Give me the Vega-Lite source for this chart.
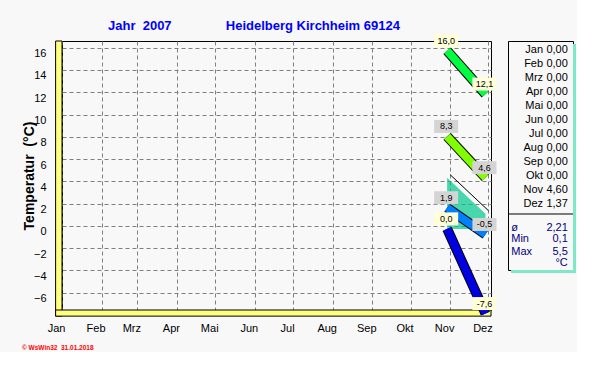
{
  "$schema": "https://vega.github.io/schema/vega-lite/v6.json",
  "background": "#F8F8F8",
  "padding": {"left": 21, "top": 19, "right": 0, "bottom": 0},
  "config": {"font": "Liberation Sans", "view": {"stroke": "black", "strokeWidth": 1}, "concat": {"spacing": 1}, "axis": {"labelOverlap": false}},
  "title": {"text": "©\u00a0WsWin32\u00a0\u00a031.01.2018", "orient": "bottom", "anchor": "start", "frame": "bounds", "fontSize": 6.5, "fontWeight": "bold", "color": "#FF0000", "offset": 11},
  "datasets": {
    "main": [
      {"series": "Max", "date": "2007/11/01", "value": 16.0, "label": "16,0"},
      {"series": "Max", "date": "2007/12/01", "value": 12.1, "label": "12,1"},
      {"series": "Mittel Max", "date": "2007/11/01", "value": 8.3, "label": "8,3"},
      {"series": "Mittel Max", "date": "2007/12/01", "value": 4.6, "label": "4,6"},
      {"series": "Mittel", "date": "2007/11/01", "value": 4.6, "label": "4,60"},
      {"series": "Mittel", "date": "2007/12/01", "value": 1.37, "label": "1,37"},
      {"series": "Mittel Min", "date": "2007/11/01", "value": 1.9, "label": "1,9"},
      {"series": "Mittel Min", "date": "2007/12/01", "value": -0.5, "label": "-0,5"},
      {"series": "Min", "date": "2007/11/01", "value": 0.0, "label": "0,0"},
      {"series": "Min", "date": "2007/12/01", "value": -7.6, "label": "-7,6"}
    ],
    "table": [
      {"label": "Jan", "value": "0,00", "row": 1, "kind": "month"},
      {"label": "Feb", "value": "0,00", "row": 2, "kind": "month"},
      {"label": "Mrz", "value": "0,00", "row": 3, "kind": "month"},
      {"label": "Apr", "value": "0,00", "row": 4, "kind": "month"},
      {"label": "Mai", "value": "0,00", "row": 5, "kind": "month"},
      {"label": "Jun", "value": "0,00", "row": 6, "kind": "month"},
      {"label": "Jul", "value": "0,00", "row": 7, "kind": "month"},
      {"label": "Aug", "value": "0,00", "row": 8, "kind": "month"},
      {"label": "Sep", "value": "0,00", "row": 9, "kind": "month"},
      {"label": "Okt", "value": "0,00", "row": 10, "kind": "month"},
      {"label": "Nov", "value": "4,60", "row": 11, "kind": "month"},
      {"label": "Dez", "value": "1,37", "row": 12, "kind": "month"},
      {"label": "ø", "value": "2,21", "row": 13.7, "kind": "stat"},
      {"label": "Min", "value": "0,1", "row": 14.5, "kind": "stat"},
      {"label": "Max", "value": "5,5", "row": 15.4, "kind": "stat"},
      {"label": "", "value": "°C", "row": 16.2, "kind": "stat"}
    ]
  },
  "hconcat": [
    {
      "width": 429,
      "height": 269,
      "title": {"text": "Jahr\u00a0\u00a02007\u00a0\u00a0\u00a0\u00a0\u00a0\u00a0\u00a0\u00a0\u00a0\u00a0\u00a0\u00a0\u00a0\u00a0\u00a0Heidelberg Kirchheim 69124", "anchor": "start", "frame": "group", "dx": 46, "fontSize": 13, "fontWeight": "bold", "color": "#0000FF", "offset": -2},
      "layer": [
        {
          "data": {"values": [{}]},
          "mark": {"type": "rect", "fill": "#FFFF80", "stroke": "black", "strokeWidth": 1},
          "encoding": {
            "x": {"datum": {"year": 2006, "month": 12, "date": 27}, "type": "temporal"},
            "x2": {"datum": {"year": 2007, "month": 1, "date": 1}},
            "y": {"datum": -8.1, "type": "quantitative"},
            "y2": {"datum": 16.6}
          }
        },
        {
          "data": {"values": [{}]},
          "mark": {"type": "rect", "fill": "#FFFF80", "stroke": "black", "strokeWidth": 1},
          "encoding": {
            "x": {"datum": {"year": 2006, "month": 12, "date": 27}, "type": "temporal"},
            "x2": {"datum": {"year": 2007, "month": 12, "date": 3}},
            "y": {"datum": -8.1, "type": "quantitative"},
            "y2": {"datum": -7.55}
          }
        },
        {
          "data": {"name": "main"},
          "transform": [{"filter": "datum.series == 'Mittel'"}],
          "mark": {"type": "area", "color": "#00C88C", "xOffset": -3, "yOffset": 3, "y2Offset": 3, "line": {"color": "black", "strokeWidth": 1}},
          "encoding": {
            "x": {"field": "date", "type": "temporal"},
            "y": {"field": "value", "type": "quantitative"},
            "y2": {"datum": 0}
          }
        },
        {
          "data": {"name": "main"},
          "transform": [{"filter": "datum.series != 'Mittel'"}],
          "mark": {"type": "line", "strokeWidth": 10, "strokeCap": "butt", "color": "black", "xOffset": -3, "yOffset": 3},
          "encoding": {
            "x": {"field": "date", "type": "temporal",
              "scale": {"domain": [{"year": 2007, "month": 1, "date": 1}, {"year": 2007, "month": 12, "date": 3}]},
              "axis": {"grid": true, "gridDash": [4, 3], "gridColor": "#808080", "gridOpacity": 1, "offset": 6, "labelOffset": -6, "ticks": false, "domain": false, "labelFontSize": 11, "labelColor": "black", "labelPadding": 6, "labelFlush": false, "labelOverlap": false, "title": null, "tickCount": {"interval": "month", "step": 1},
                "labelExpr": "['Jan','Feb','Mrz','Apr','Mai','Jun','Jul','Aug','Sep','Okt','Nov','Dez'][month(datum.value)]"}},
            "y": {"field": "value", "type": "quantitative",
              "scale": {"domain": [-7.55, 16.6], "nice": false, "zero": false},
              "axis": {"values": [-6, -4, -2, 0, 2, 4, 6, 8, 10, 12, 14, 16], "tickCount": 12, "grid": true, "gridDash": [4, 3], "gridColor": "#808080", "gridOpacity": 1, "offset": 6, "labelOffset": 6, "ticks": false, "domain": false, "labelFontSize": 11, "labelColor": "black", "labelPadding": 10, "labelOverlap": false, "labelFlush": false, "labelBound": false, "title": "Temperatur\u00a0\u00a0(°C)", "titleFontSize": 14, "titleFontWeight": "bold", "titleColor": "black", "titlePadding": -3}},
            "detail": {"field": "series"}
          }
        },
        {
          "data": {"name": "main"},
          "transform": [{"filter": "datum.series != 'Mittel'"}],
          "mark": {"type": "line", "strokeWidth": 8, "strokeCap": "butt", "xOffset": -3, "yOffset": 3},
          "encoding": {
            "x": {"field": "date", "type": "temporal"},
            "y": {"field": "value", "type": "quantitative"},
            "color": {"field": "series", "type": "nominal", "legend": null,
              "scale": {"domain": ["Max", "Mittel Max", "Mittel", "Mittel Min", "Min"], "range": ["#00FF40", "#80FF00", "#00C88C", "#0080FF", "#0000E0"]}}
          }
        },
        {
          "data": {"name": "main"},
          "transform": [{"filter": "datum.series != 'Mittel'"}],
          "mark": {"type": "point", "shape": "M-1.85,-1L1.85,-1L1.85,1L-1.85,1Z", "size": 169, "filled": true, "opacity": 1, "xOffset": -4, "yOffset": -7},
          "encoding": {
            "x": {"field": "date", "type": "temporal"},
            "y": {"field": "value", "type": "quantitative"},
            "fill": {"condition": {"test": "datum.series == 'Max' || datum.series == 'Min'", "value": "#FFFFD8"}, "value": "#D4D4D4"}
          }
        },
        {
          "data": {"name": "main"},
          "transform": [{"filter": "datum.series != 'Mittel'"}],
          "mark": {"type": "text", "fontSize": 9, "color": "black", "baseline": "middle", "align": "center", "xOffset": -4, "yOffset": -7},
          "encoding": {
            "x": {"field": "date", "type": "temporal"},
            "y": {"field": "value", "type": "quantitative"},
            "text": {"field": "label"}
          }
        }
      ]
    },
    {
      "width": 65,
      "height": 229,
      "data": {"name": "table"},
      "layer": [
        {
          "data": {"values": [{}]},
          "mark": {"type": "rect", "fill": "#7FE8C8", "clip": false},
          "encoding": {
            "x": {"datum": 1.0, "type": "quantitative", "scale": {"domain": [0, 1]}, "axis": null},
            "x2": {"datum": 1.046},
            "y": {"datum": 0.57, "type": "quantitative", "scale": {"domain": [0.357, 16.71], "reverse": true, "nice": false, "zero": false}, "axis": null},
            "y2": {"datum": 16.93}
          }
        },
        {
          "data": {"values": [{}]},
          "mark": {"type": "rect", "fill": "#7FE8C8", "clip": false},
          "encoding": {
            "x": {"datum": 0.046, "type": "quantitative", "axis": null},
            "x2": {"datum": 1.046},
            "y": {"datum": 16.71, "type": "quantitative", "axis": null},
            "y2": {"datum": 16.93}
          }
        },
        {
          "data": {"values": [{}]},
          "mark": {"type": "rule", "color": "black", "strokeWidth": 1},
          "encoding": {
            "x": {"datum": 0, "type": "quantitative", "axis": null},
            "x2": {"datum": 1},
            "y": {"datum": 12.71, "type": "quantitative", "axis": null}
          }
        },
        {
          "transform": [{"filter": "datum.kind == 'month'"}],
          "mark": {"type": "text", "align": "right", "baseline": "middle", "fontSize": 11, "color": "black"},
          "encoding": {
            "x": {"datum": 0.54, "type": "quantitative", "axis": null},
            "y": {"field": "row", "type": "quantitative", "axis": null},
            "text": {"field": "label"}
          }
        },
        {
          "transform": [{"filter": "datum.kind == 'stat'"}],
          "mark": {"type": "text", "align": "left", "baseline": "middle", "fontSize": 11, "color": "#000080"},
          "encoding": {
            "x": {"datum": 0.05, "type": "quantitative", "axis": null},
            "y": {"field": "row", "type": "quantitative", "axis": null},
            "text": {"field": "label"}
          }
        },
        {
          "mark": {"type": "text", "align": "right", "baseline": "middle", "fontSize": 11},
          "encoding": {
            "x": {"datum": 0.92, "type": "quantitative", "axis": null},
            "y": {"field": "row", "type": "quantitative", "axis": null},
            "text": {"field": "value"},
            "color": {"condition": {"test": "datum.kind == 'stat'", "value": "#000080"}, "value": "black"}
          }
        }
      ]
    }
  ]
}
